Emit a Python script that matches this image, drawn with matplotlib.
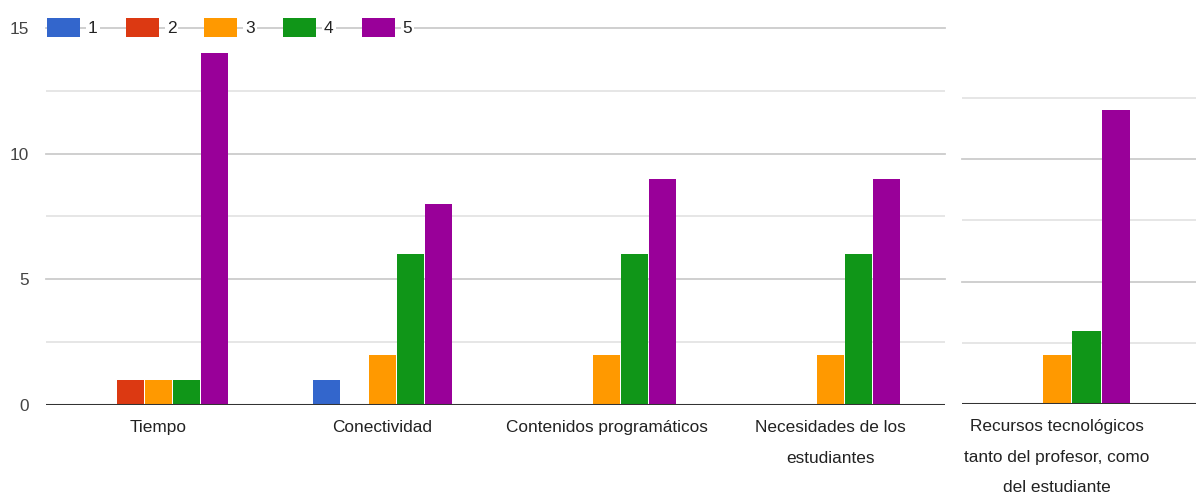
import matplotlib
matplotlib.use("Agg")
import matplotlib.pyplot as plt
import numpy as np

plt.rcParams['font.family'] = ['Liberation Sans', 'DejaVu Sans']

# Data
categories = ['Tiempo', 'Conectividad', 'Contenidos programáticos',
              'Necesidades de los\nestudiantes',
              'Recursos tecnológicos\ntanto del profesor, como\ndel estudiante']
series_labels = ['1', '2', '3', '4', '5']
rating_1 = [0, 1, 0, 0, 0]
rating_2 = [1, 0, 0, 0, 0]
rating_3 = [1, 2, 2, 2, 2]
rating_4 = [1, 6, 6, 6, 3]
rating_5 = [14, 8, 9, 9, 12]
series_values = [rating_1, rating_2, rating_3, rating_4, rating_5]
colors = ['#3366cc', '#dc3912', '#ff9900', '#109618', '#990099']
y_ticks = [0, 5, 10, 15]

W, H = 1196, 498
FS = 12.4
PX = FS * 100 / 72
TEXT = '#222222'

fig = plt.figure(figsize=(W / 100, H / 100), dpi=100)

# main panel: first four categories
axL = fig.add_axes([46 / W, (H - 405) / H, (945 - 46) / W, (405 - 28) / H])
# side panel: last category
axR = fig.add_axes([962 / W, (H - 404) / H, (W - 962) / W, 15 * 24.5 / H])

pitch = 0.125
width = 0.12
offsets = (np.arange(5) - 2) * pitch


def draw_panel(ax, idx, show_top=True):
    x = np.arange(len(categories))[idx]
    for k, vals in enumerate(series_values):
        v = np.array(vals)[idx]
        ax.bar(x + offsets[k], v, width=width, color=colors[k],
               linewidth=0, zorder=2, label=series_labels[k])
    for g in [2.5, 7.5, 12.5]:
        ax.axhline(g, color='#e4e4e4', lw=1.3, zorder=0)
    for g in [5, 10] + ([15] if show_top else []):
        ax.axhline(g, color='#cccccc', lw=1.3, zorder=0, clip_on=False)
    ax.axhline(0, color='#333333', lw=2.2, zorder=3)
    ax.set_ylim(0, 15)
    for s in ax.spines.values():
        s.set_visible(False)
    ax.set_xticks(x)
    ax.set_xticklabels([categories[i] for i in idx], fontsize=FS,
                       color=TEXT, linespacing=2.3, va='top')
    ax.tick_params(axis='x', length=0, pad=11)


draw_panel(axL, [0, 1, 2, 3])
axL.set_xlim(-0.5, 3.51)
axL.set_yticks(y_ticks)
axL.set_yticklabels([str(t) for t in y_ticks], fontsize=FS, color='#444444')
axL.tick_params(axis='y', length=0, pad=12)

draw_panel(axR, [4], show_top=False)
axR.set_xlim(4 - 0.403, 4 + 0.589)
axR.set_yticks([])

handles, labels = axL.get_legend_handles_labels()
leg = axL.legend(handles, labels, loc='upper left',
                 bbox_to_anchor=(47 / W, 1 - 18 / H), bbox_transform=fig.transFigure,
                 ncol=5, frameon=False, fontsize=FS, borderpad=0, borderaxespad=0,
                 handlelength=33 / PX, handleheight=23 / PX, handletextpad=8 / PX,
                 columnspacing=28 / PX)
leg.set_zorder(5)
for t in leg.get_texts():
    t.set_color(TEXT)
    t.set_bbox(dict(facecolor='white', edgecolor='none', pad=1.5))

fig.savefig('out.png', dpi=100, facecolor='white')
